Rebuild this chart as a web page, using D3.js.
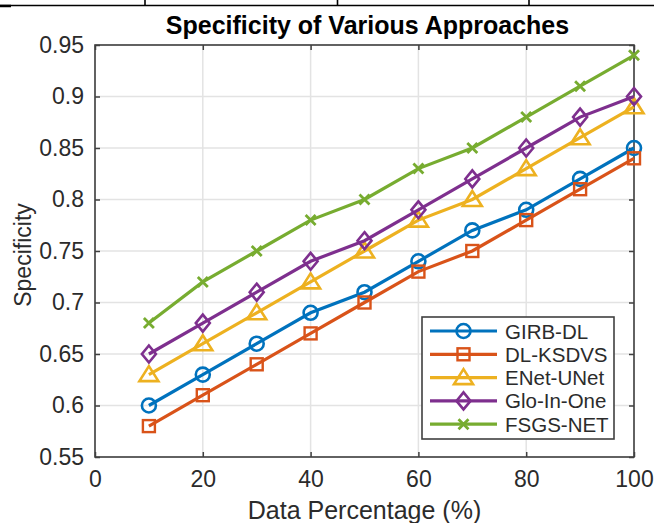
<!DOCTYPE html>
<html>
<head>
    <title>specificity</title>
    <script src="https://cdnjs.cloudflare.com/ajax/libs/d3/7.8.5/d3.min.js"></script>
    <style>
    body { margin: 0; background: #fff; }
    svg { display: block; font-family: "Liberation Sans", Arial, sans-serif; }
    </style>
</head>
<body>
    <svg id="chart" width="654" height="523"></svg>

    <script>
var xValues = [10, 20, 30, 40, 50, 60, 70, 80, 90, 100]
var seriesNames = ['GIRB-DL', 'DL-KSDVS', 'ENet-UNet', 'Glo-In-One', 'FSGS-NET']
var girb   = [0.60, 0.63, 0.66, 0.69, 0.71, 0.74, 0.77, 0.79, 0.82, 0.85]
var dlks   = [0.58, 0.61, 0.64, 0.67, 0.70, 0.73, 0.75, 0.78, 0.81, 0.84]
var enet   = [0.63, 0.66, 0.69, 0.72, 0.75, 0.78, 0.80, 0.83, 0.86, 0.89]
var gloin  = [0.65, 0.68, 0.71, 0.74, 0.76, 0.79, 0.82, 0.85, 0.88, 0.90]
var fsgs   = [0.68, 0.72, 0.75, 0.78, 0.80, 0.83, 0.85, 0.88, 0.91, 0.94]
var xTicks = [0, 20, 40, 60, 80, 100]
var yTicks = [0.55, 0.6, 0.65, 0.7, 0.75, 0.8, 0.85, 0.9, 0.95]

var colors = ['#0072BD', '#D95319', '#EDB120', '#7E2F8E', '#77AC30']
var markers = ['circle', 'square', 'triangle', 'diamond', 'x']
var allSeries = [girb, dlks, enet, gloin, fsgs]

var svg = d3.select('#chart')
var plotLeft = 95, plotRight = 634, plotTop = 45, plotBottom = 457
var axisColor = '#404040'

// table border remnant at the very top
svg.append('line').attr('x1', 0).attr('x2', 654).attr('y1', 5.5).attr('y2', 5.5)
    .attr('stroke', '#000').attr('stroke-width', 1.6)
svg.append('line').attr('x1', 0).attr('x2', 11).attr('y1', 6).attr('y2', 6)
    .attr('stroke', '#000').attr('stroke-width', 2.5)
;[145, 337.5, 529].forEach(function (xp) {
    svg.append('line').attr('x1', xp).attr('x2', xp).attr('y1', 0).attr('y2', 6)
        .attr('stroke', '#000').attr('stroke-width', 1.6)
})

var x = d3.scaleLinear().domain([0, 100]).range([plotLeft, plotRight])
var y = d3.scaleLinear().domain([0.55, 0.95]).range([plotBottom, plotTop])

// grid
var grid = svg.append('g').attr('stroke', '#e3e3e3').attr('stroke-width', 1.5)
xTicks.forEach(function (t) {
    grid.append('line').attr('x1', x(t)).attr('x2', x(t)).attr('y1', plotTop).attr('y2', plotBottom)
})
yTicks.forEach(function (t) {
    grid.append('line').attr('x1', plotLeft).attr('x2', plotRight).attr('y1', y(t)).attr('y2', y(t))
})

// axes with inward ticks on all four sides
function styleAxis(g) {
    g.select('.domain').remove()
    g.selectAll('.tick line').attr('stroke', axisColor).attr('stroke-width', 1.5)
    g.selectAll('.tick text').attr('fill', '#2b2b2b').style('font-size', '23px')
}
svg.append('g').attr('transform', 'translate(0,' + plotBottom + ')')
    .call(d3.axisBottom(x).tickValues(xTicks).tickSize(-5).tickPadding(14).tickFormat(d3.format('d')))
    .call(styleAxis)
svg.append('g').attr('transform', 'translate(0,' + plotTop + ')')
    .call(d3.axisTop(x).tickValues(xTicks).tickSize(-5).tickFormat(''))
    .call(styleAxis)
svg.append('g').attr('transform', 'translate(' + plotLeft + ',0)')
    .call(d3.axisLeft(y).tickValues(yTicks).tickSize(-5).tickPadding(11).tickFormat(function (d) { return String(+d.toFixed(2)) }))
    .call(styleAxis)
svg.append('g').attr('transform', 'translate(' + plotRight + ',0)')
    .call(d3.axisRight(y).tickValues(yTicks).tickSize(-5).tickFormat(''))
    .call(styleAxis)

svg.append('rect').attr('x', plotLeft).attr('y', plotTop).attr('width', plotRight - plotLeft).attr('height', plotBottom - plotTop)
    .attr('fill', 'none').attr('stroke', axisColor).attr('stroke-width', 1.6)

function drawMarker(g, type, cx, cy, color) {
    if (type === 'circle') {
        g.append('circle').attr('cx', cx).attr('cy', cy).attr('r', 7)
            .attr('fill', 'none').attr('stroke', color).attr('stroke-width', 2.6)
    } else if (type === 'square') {
        g.append('rect').attr('x', cx - 6).attr('y', cy - 6).attr('width', 12).attr('height', 12)
            .attr('fill', 'none').attr('stroke', color).attr('stroke-width', 2.4)
    } else if (type === 'triangle') {
        g.append('path').attr('d', 'M' + cx + ',' + (cy - 8.5) + 'L' + (cx + 9.5) + ',' + (cy + 6.5) + 'L' + (cx - 9.5) + ',' + (cy + 6.5) + 'Z')
            .attr('fill', 'none').attr('stroke', color).attr('stroke-width', 2.6)
    } else if (type === 'diamond') {
        g.append('path').attr('d', 'M' + cx + ',' + (cy - 8.5) + 'L' + (cx + 7) + ',' + cy + 'L' + cx + ',' + (cy + 8.5) + 'L' + (cx - 7) + ',' + cy + 'Z')
            .attr('fill', 'none').attr('stroke', color).attr('stroke-width', 2.6)
    } else {
        g.append('path').attr('d', 'M' + (cx - 5) + ',' + (cy - 5) + 'L' + (cx + 5) + ',' + (cy + 5) +
            'M' + (cx + 5) + ',' + (cy - 5) + 'L' + (cx - 5) + ',' + (cy + 5))
            .attr('fill', 'none').attr('stroke', color).attr('stroke-width', 2.8)
    }
}

var line = d3.line().x(function (d, i) { return x(xValues[i]) }).y(function (d) { return y(d) })

allSeries.forEach(function (vals, s) {
    var g = svg.append('g')
    g.append('path').datum(vals).attr('d', line)
        .attr('fill', 'none').attr('stroke', colors[s]).attr('stroke-width', 3.2)
    vals.forEach(function (v, i) {
        drawMarker(g, markers[s], x(xValues[i]), y(v), colors[s])
    })
})

// legend
var lg = svg.append('g')
lg.append('rect').attr('x', 422).attr('y', 317).attr('width', 192).attr('height', 122)
    .attr('fill', '#fff').attr('stroke', axisColor).attr('stroke-width', 1.6)
seriesNames.forEach(function (name, s) {
    var ly = 331 + s * 23.3
    lg.append('line').attr('x1', 430).attr('x2', 497).attr('y1', ly).attr('y2', ly)
        .attr('stroke', colors[s]).attr('stroke-width', 3.2)
    drawMarker(lg, markers[s], 463.5, ly, colors[s])
    lg.append('text').attr('x', 505).attr('y', ly + 7.5).text(name)
        .attr('fill', '#2b2b2b').style('font-size', '20.5px')
})

// titles
svg.append('text').attr('x', (plotLeft + plotRight) / 2 + 3).attr('y', 34).attr('text-anchor', 'middle')
    .style('font-size', '25px').style('font-weight', 'bold').attr('fill', '#000')
    .text('Specificity of Various Approaches')
svg.append('text').attr('x', (plotLeft + plotRight) / 2).attr('y', 519).attr('text-anchor', 'middle')
    .style('font-size', '25px').attr('fill', '#2b2b2b')
    .text('Data Percentage (%)')
svg.append('text').attr('transform', 'translate(31,' + ((plotTop + plotBottom) / 2 + 4) + ') rotate(-90)')
    .attr('text-anchor', 'middle').style('font-size', '23px').attr('fill', '#2b2b2b')
    .text('Specificity')
    </script>
</body>
</html>
